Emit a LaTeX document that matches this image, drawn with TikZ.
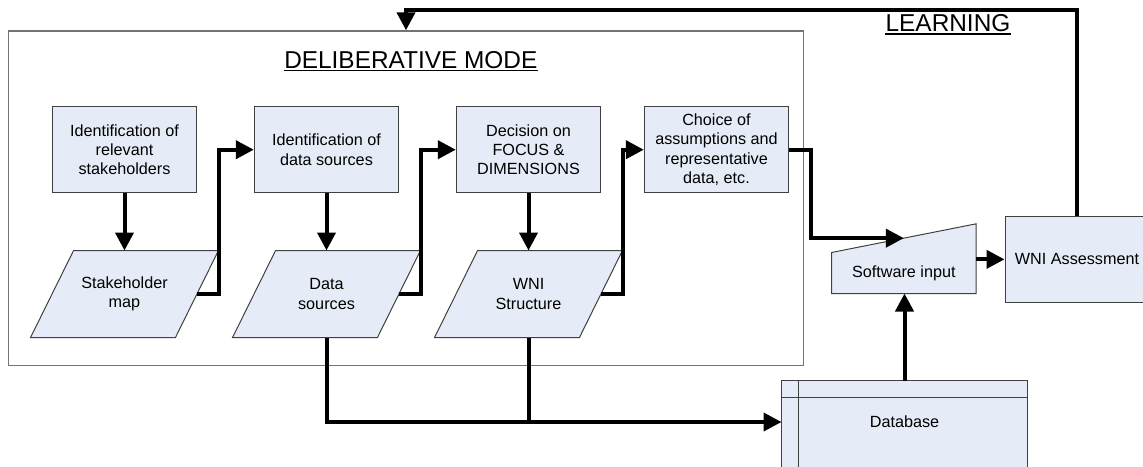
\documentclass[tikz,border=0pt]{standalone}
\usepackage{fontspec}
\setmainfont{Liberation Sans}
\usetikzlibrary{arrows.meta,backgrounds,calc}
\definecolor{boxfill}{RGB}{230,236,247}
\definecolor{boxline}{RGB}{64,64,64}
\definecolor{framegray}{RGB}{115,115,115}
\begin{document}
\begin{tikzpicture}[x=1pt,y=-1pt,
  txt/.style={font=\fontsize{16.2}{19.3}\selectfont, align=center, inner sep=0pt},
  procbox/.style={txt, draw=boxline, fill=boxfill, line width=1pt, minimum width=144.4pt, minimum height=86pt},
  paratxt/.style={txt, minimum width=144.5pt, minimum height=86.6pt},
  shapeline/.style={draw=boxline, fill=boxfill, line width=1pt},
  framebox/.style={draw=framegray, line width=1.4pt, inner sep=0pt, minimum width=794.6pt, minimum height=334.7pt},
  conn/.style={line width=4pt, -{Triangle[length=18pt,width=18pt]}},
  plainline/.style={line width=4pt},
  heading/.style={font=\fontsize{24.4}{29}\selectfont, inner sep=0pt, anchor=base},
  uline/.style={line width=1.5pt},
]
\useasboundingbox (0,0) rectangle (1143,466);
\clip (0,0) rectangle (1143,466);

% process boxes
\node[procbox] (b1) at (124.5,149.7) {Identification of\\relevant\\stakeholders};
\node[procbox] (b2) at (326.5,149.7) {Identification of\\data sources};
\node[procbox] (b3) at (528.5,149.7) {Decision on\\FOCUS \&\\DIMENSIONS};
\node[procbox] (b4) at (716.5,149.7) {Choice of\\assumptions and\\representative\\data, etc.};

% data (parallelogram) nodes
\node[paratxt] (p1) at (124.5,294) {Stakeholder\\map};
\node[paratxt] (p2) at (326.5,294) {Data\\sources};
\node[paratxt] (p3) at (528.5,294) {WNI\\Structure};

% software input, assessment, database
\node[txt, minimum width=144.3pt, minimum height=40.6pt] (sw) at (903.85,273) {Software input};
\node[procbox, minimum width=144pt, minimum height=86.7pt] (wni) at (1077,259.35) {WNI Assessment};
\node[txt, minimum width=245.6pt, minimum height=82.6pt] (db) at (904.5,422) {Database};

\begin{scope}[on background layer]
  \node[framebox] (frame) at (406,198.35) {};
  \foreach \p in {p1,p2,p3}
    \draw[shapeline] ([xshift=-21.5pt]\p.south west) -- ([xshift=-21.5pt]\p.south east)
      -- ([xshift=21.5pt]\p.north east) -- ([xshift=21.5pt]\p.north west) -- cycle;
  \draw[shapeline] (sw.south west) -- (sw.south east) -- ([yshift=28.7pt]sw.north east)
      -- (sw.north west) -- cycle;
  \fill[boxfill] (db.north west) rectangle ([yshift=-40pt]db.south east);
  \draw[boxline, line width=1pt] ([yshift=-40pt]db.south west) -- (db.north west)
      -- (db.north east) -- ([yshift=-40pt]db.south east);
  \draw[boxline, line width=1pt] ([xshift=16.6pt]db.north west) -- ([xshift=16.6pt,yshift=-40pt]db.south west);
  \draw[boxline, line width=1pt] ([yshift=-16.6pt]db.north west) -- ([yshift=-16.6pt]db.north east);
\end{scope}

\coordinate (swtop) at ($(sw.north west)!0.5!([yshift=28.7pt]sw.north east)$);
\coordinate (lt) at (0,10);

% headings
\node[heading] (dm) at (410.8,68) {DELIBERATIVE MODE};
\draw[uline] ([yshift=-2.5pt]dm.base west) -- ([yshift=-2.5pt]dm.base east);
\node[heading] (lrn) at (948,31.7) {LEARNING};
\draw[uline] ([yshift=-2.5pt]lrn.base west) -- ([yshift=-2.5pt]lrn.base east);

% connectors
\draw[conn] (b1.south) -- (p1.north);
\draw[conn] (b2.south) -- (p2.north);
\draw[conn] (b3.south) -- (p3.north);
\draw[conn] (p1.east) -- ++(22,0) |- (b2.west);
\draw[conn] (p2.east) -- ++(22,0) |- (b3.west);
\draw[conn] (p3.east) -- ++(22,0) |- (b4.west);
\draw[conn] (b4.east) -- ++(22,0) |- (swtop);
\draw[conn] (sw.east |- wni.west) -- (wni.west);
\draw[conn] (db.north) -- (db.north |- sw.south);
\draw[conn] (p2.south) |- (db.west);
\draw[plainline] (p3.south) -- (p3.south |- db.west);
\draw[conn] (wni.north) -- (wni.north |- lt) -| (frame.north);
\end{tikzpicture}
\end{document}
